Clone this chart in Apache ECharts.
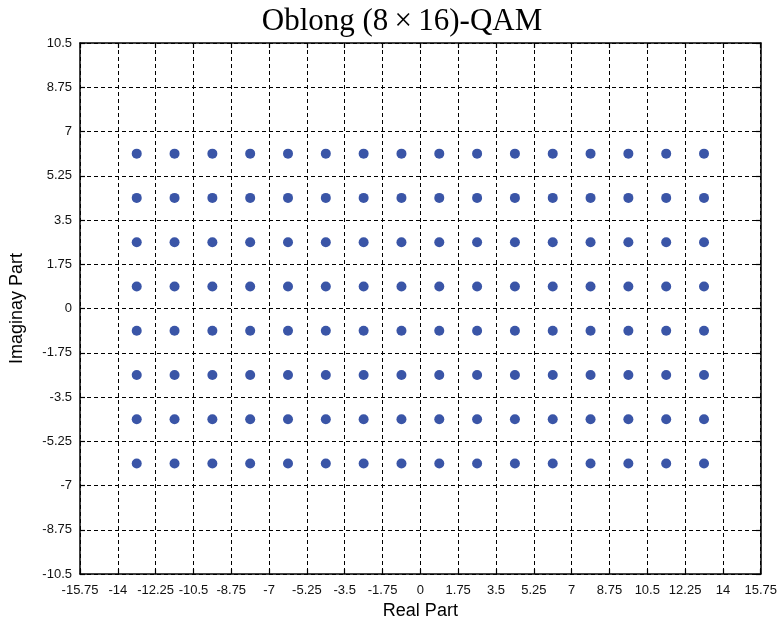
<!DOCTYPE html>
<html>
<head>
<meta charset="utf-8">
<script src="https://cdn.jsdelivr.net/npm/echarts@6/dist/echarts.min.js"></script>
<style>html,body{margin:0;padding:0;background:#fff}#c{width:780px;height:625px}</style>
</head>
<body>
<div id="c"></div>
<script>
var titleText = 'Oblong (8\u2009\u00d7\u200916)-QAM';
var xName = 'Real Part';
var yName = 'Imaginay Part';
var realLevels = [-13.125, -11.375, -9.625, -7.875, -6.125, -4.375, -2.625, -0.875, 0.875, 2.625, 4.375, 6.125, 7.875, 9.625, 11.375, 13.125];
var imagLevels = [-6.125, -4.375, -2.625, -0.875, 0.875, 2.625, 4.375, 6.125];
var xMin = -15.75, xMax = 15.75, xStep = 1.75;
var yMin = -10.5, yMax = 10.5, yStep = 1.75;

var points = [];
imagLevels.forEach(function (q) {
  realLevels.forEach(function (i) { points.push([i, q]); });
});

var chart = echarts.init(document.getElementById('c'), null, {renderer: 'canvas'});
var font = 'Liberation Sans, Arial, sans-serif';
function fmt(v) { return String(Math.round(v * 100) / 100); }
var lineStyle = {color: '#000', width: 1.5};
var tickStyle = {color: '#000', width: 1.2};
var gridLine = {show: true, lineStyle: {color: '#000', width: 1, type: [4, 3]}};
chart.setOption({
  animation: false,
  backgroundColor: '#fff',
  title: {
    text: titleText, left: 397, textAlign: 'center', top: 1,
    textStyle: {fontFamily: 'Liberation Serif, Times New Roman, serif', fontSize: 31, fontWeight: 'normal', color: '#000'}
  },
  grid: {left: 79, right: 19, top: 43, bottom: 50},
  xAxis: [{
    type: 'value', min: xMin, max: xMax, interval: xStep,
    name: xName, nameLocation: 'middle', nameGap: 26,
    nameTextStyle: {fontFamily: font, fontSize: 18, color: '#000'},
    axisLine: {show: true, onZero: false, lineStyle: lineStyle},
    axisTick: {show: true, inside: true, length: 5, lineStyle: tickStyle},
    axisLabel: {fontFamily: font, fontSize: 13, color: '#111', margin: 10, formatter: fmt, showMinLabel: true, showMaxLabel: true},
    splitLine: gridLine
  }, {
    type: 'value', position: 'top', min: xMin, max: xMax, interval: xStep,
    axisLine: {show: true, onZero: false, lineStyle: lineStyle},
    axisTick: {show: true, inside: true, length: 5, lineStyle: tickStyle},
    axisLabel: {show: false}, splitLine: {show: false}
  }],
  yAxis: [{
    type: 'value', min: yMin, max: yMax, interval: yStep,
    name: yName, nameLocation: 'middle', nameGap: 54, nameRotate: 90,
    nameTextStyle: {fontFamily: font, fontSize: 18, color: '#000'},
    axisLine: {show: true, onZero: false, lineStyle: lineStyle},
    axisTick: {show: true, inside: true, length: 5, lineStyle: tickStyle},
    axisLabel: {fontFamily: font, fontSize: 13, color: '#111', margin: 8, formatter: fmt, showMinLabel: true, showMaxLabel: true},
    splitLine: gridLine
  }, {
    type: 'value', position: 'right', min: yMin, max: yMax, interval: yStep,
    axisLine: {show: true, onZero: false, lineStyle: lineStyle},
    axisTick: {show: true, inside: true, length: 5, lineStyle: tickStyle},
    axisLabel: {show: false}, splitLine: {show: false}
  }],
  series: [{
    type: 'scatter', xAxisIndex: 0, yAxisIndex: 0,
    data: points, symbol: 'circle', symbolSize: 10,
    itemStyle: {color: '#3a55a7', opacity: 1}
  }]
});
</script>
</body>
</html>
